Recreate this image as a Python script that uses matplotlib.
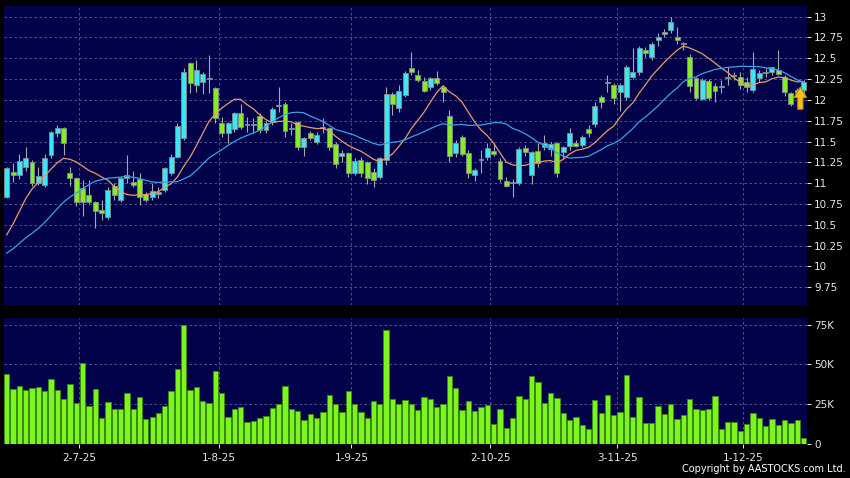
import matplotlib
matplotlib.use("Agg")
import matplotlib.pyplot as plt
import numpy as np
import pandas as pd

# closes before the visible window (only used to warm up the moving averages)
prior_close = [10.05, 10.0, 9.95, 9.9, 9.92, 9.88, 9.95, 10.0, 9.9,
               9.85, 9.8, 9.75, 9.78, 9.84, 10.3, 10.55, 10.75, 10.9, 10.95]

opens = [10.83, 11.14, 11.10, 11.19, 11.25, 11.00, 10.98, 11.34, 11.60, 11.66,
         11.12, 11.06, 10.94, 10.86, 10.77, 10.68, 10.59, 10.97, 10.80, 11.06,
         11.01, 11.05, 10.87, 10.83, 10.87, 10.92, 11.12, 11.32, 11.54, 12.44,
         12.18, 12.22, 12.25, 12.14, 11.72, 11.60, 11.65, 11.84, 11.70, 11.70,
         11.81, 11.64, 11.73, 11.93, 11.95, 11.65, 11.73, 11.43, 11.60, 11.49,
         11.66, 11.66, 11.47, 11.33, 11.36, 11.12, 11.28, 11.25, 11.14, 11.08,
         11.28, 12.07, 11.90, 12.06, 12.38, 12.30, 12.23, 12.15, 12.26, 12.15,
         11.81, 11.36, 11.55, 11.36, 11.10, 11.28, 11.31, 11.39, 11.27, 11.03,
         11.01, 11.00, 11.42, 11.10, 11.39, 11.43, 11.41, 11.48, 11.38, 11.45,
         11.48, 11.46, 11.65, 11.71, 12.03, 12.20, 12.18, 12.10, 12.04, 12.28,
         12.34, 12.60, 12.51, 12.72, 12.81, 12.84, 12.75, 12.67, 12.52, 12.26,
         12.01, 12.23, 12.17, 12.15, 12.26, 12.29, 12.27, 12.22, 12.12, 12.26,
         12.32, 12.33, 12.36, 12.27, 12.08, 12.12, 12.12]
highs = [11.20, 11.24, 11.35, 11.43, 11.28, 11.20, 11.35, 11.63, 11.70, 11.68,
         11.20, 11.08, 11.04, 11.04, 10.79, 10.80, 10.95, 11.00, 11.08, 11.34,
         11.15, 11.12, 10.90, 11.00, 10.95, 11.20, 11.35, 11.72, 12.38, 12.46,
         12.48, 12.34, 12.54, 12.16, 11.80, 11.74, 11.86, 11.95, 11.80, 11.78,
         11.84, 11.75, 11.92, 12.15, 11.97, 11.72, 11.75, 11.56, 11.63, 11.62,
         11.78, 11.68, 11.50, 11.40, 11.38, 11.30, 11.32, 11.27, 11.18, 11.32,
         12.15, 12.10, 12.18, 12.35, 12.57, 12.36, 12.28, 12.28, 12.35, 12.18,
         11.88, 11.52, 11.58, 11.40, 11.18, 11.40, 11.48, 11.48, 11.30, 11.08,
         11.05, 11.44, 11.46, 11.39, 11.48, 11.58, 11.50, 11.50, 11.45, 11.66,
         11.52, 11.58, 11.70, 11.98, 12.06, 12.30, 12.20, 12.20, 12.42, 12.62,
         12.65, 12.63, 12.70, 12.80, 12.85, 12.99, 12.88, 12.70, 12.55, 12.28,
         12.26, 12.25, 12.20, 12.24, 12.40, 12.34, 12.33, 12.28, 12.58, 12.36,
         12.38, 12.40, 12.60, 12.30, 12.10, 12.14, 12.24]
lows = [10.82, 11.01, 11.05, 11.15, 10.97, 10.98, 10.95, 11.30, 11.55, 11.34,
        10.97, 10.73, 10.60, 10.75, 10.46, 10.56, 10.57, 10.80, 10.78, 11.00,
        10.95, 10.74, 10.78, 10.80, 10.82, 10.90, 11.10, 11.30, 11.52, 12.08,
        12.10, 12.07, 12.08, 11.72, 11.55, 11.48, 11.62, 11.65, 11.62, 11.60,
        11.60, 11.60, 11.70, 11.85, 11.55, 11.58, 11.40, 11.33, 11.52, 11.47,
        11.60, 11.40, 11.18, 11.25, 11.08, 11.10, 11.08, 10.99, 10.95, 11.05,
        11.22, 11.82, 11.85, 12.03, 12.30, 12.22, 12.10, 12.12, 12.18, 11.98,
        11.26, 11.32, 11.33, 11.06, 11.03, 11.12, 11.28, 11.33, 11.02, 10.96,
        10.84, 10.98, 11.33, 10.99, 11.20, 11.40, 11.33, 11.08, 11.30, 11.40,
        11.43, 11.43, 11.56, 11.68, 11.90, 12.10, 11.95, 11.87, 12.00, 12.25,
        12.30, 12.52, 12.48, 12.65, 12.76, 12.80, 12.67, 12.60, 12.10, 12.00,
        12.00, 12.00, 11.98, 12.08, 12.18, 12.24, 12.13, 12.10, 12.10, 12.22,
        12.28, 12.30, 12.30, 12.05, 11.93, 12.05, 12.08]
closes = [11.18, 11.10, 11.27, 11.30, 11.00, 11.09, 11.30, 11.61, 11.66, 11.48,
          11.06, 10.78, 10.77, 10.77, 10.67, 10.64, 10.92, 10.86, 11.06, 11.10,
          10.98, 10.83, 10.80, 10.91, 10.89, 11.18, 11.32, 11.69, 12.33, 12.20,
          12.36, 12.31, 12.25, 11.78, 11.60, 11.72, 11.84, 11.67, 11.70, 11.70,
          11.64, 11.72, 11.89, 11.94, 11.63, 11.65, 11.43, 11.54, 11.54, 11.58,
          11.66, 11.43, 11.23, 11.36, 11.12, 11.27, 11.12, 11.06, 11.04, 11.30,
          12.07, 11.95, 12.11, 12.32, 12.34, 12.24, 12.11, 12.26, 12.20, 12.10,
          11.33, 11.48, 11.35, 11.12, 11.16, 11.29, 11.42, 11.35, 11.05, 10.97,
          11.00, 11.41, 11.37, 11.37, 11.24, 11.48, 11.47, 11.12, 11.43, 11.60,
          11.45, 11.55, 11.60, 11.93, 11.97, 12.20, 12.02, 12.18, 12.40, 12.34,
          12.62, 12.56, 12.67, 12.75, 12.79, 12.94, 12.72, 12.67, 12.17, 12.02,
          12.24, 12.02, 12.11, 12.15, 12.26, 12.29, 12.18, 12.15, 12.37, 12.32,
          12.32, 12.39, 12.31, 12.10, 11.95, 12.08, 12.22]
# volume in thousands of shares
volume_k = [44.1, 34.7, 36.4, 33.9, 35.2, 35.8, 33.1, 40.5, 33.7, 28.0,
            37.7, 25.4, 51.1, 23.5, 34.5, 15.9, 26.3, 21.8, 21.8, 32.0,
            21.8, 29.4, 15.7, 16.7, 19.3, 23.7, 33.5, 47.0, 75.2, 33.7,
            36.0, 26.9, 25.8, 46.0, 32.0, 16.9, 21.8, 22.9, 13.6, 14.0,
            16.1, 17.2, 22.5, 25.0, 36.4, 22.0, 20.6, 14.8, 18.4, 16.3,
            19.7, 30.9, 24.8, 20.1, 33.3, 24.8, 20.1, 16.1, 27.1, 25.2,
            71.8, 28.0, 25.2, 27.3, 25.0, 21.0, 29.2, 28.2, 23.3, 24.8,
            42.8, 35.0, 21.0, 27.1, 20.8, 23.3, 24.6, 12.3, 22.0, 9.5,
            16.3, 30.3, 28.4, 42.8, 39.2, 25.4, 32.0, 28.8, 19.5, 15.0,
            16.9, 11.4, 9.1, 27.3, 19.3, 30.9, 17.8, 19.9, 43.4, 16.9,
            29.7, 12.9, 13.1, 23.9, 18.9, 24.8, 15.5, 18.0, 28.2, 22.0,
            21.4, 21.6, 30.1, 9.3, 13.6, 13.3, 7.6, 12.1, 19.3, 16.1,
            10.8, 15.5, 11.9, 15.0, 12.9, 14.6, 3.2]

date_pos = [11.5, 33.5, 54.5, 76.5, 96.5, 116.5]
date_labels = ["2-7-25", "1-8-25", "1-9-25", "2-10-25", "3-11-25", "1-12-25"]
price_ticks = [9.75, 10, 10.25, 10.5, 10.75, 11, 11.25, 11.5, 11.75,
               12, 12.25, 12.5, 12.75, 13]
vol_ticks = [0, 25, 50, 75]
vol_labels = ["0", "25K", "50K", "75K"]

BG = "#02024a"
GRID = "#5c5c96"
TXT = "#e6e6e6"
UP = "#3ce6f2"
DOWN = "#86ec24"

n = len(closes)
x = np.arange(n)
all_close = pd.Series(prior_close + closes)
ma10 = all_close.rolling(10).mean().values[len(prior_close):]
ma20 = all_close.rolling(20).mean().values[len(prior_close):]

fig = plt.figure(figsize=(8.5, 4.78), dpi=100, facecolor="black")
ax = fig.add_axes([4 / 850, 173 / 478, 803 / 850, 299 / 478], facecolor=BG)
axv = fig.add_axes([4 / 850, 34.5 / 478, 803 / 850, 125.5 / 478], facecolor=BG)

o = np.array(opens)
c = np.array(closes)
cols = [UP if cc > oo else (DOWN if cc < oo else "#b0b0b0") for oo, cc in zip(o, c)]
ax.vlines(x, lows, highs, color="#a8a8a8", lw=0.8, zorder=2)
body_lo = np.minimum(o, c)
body_h = np.maximum(np.abs(c - o), 0.012)
ax.bar(x, body_h, bottom=body_lo, width=0.78, color=cols,
       edgecolor="#7f9090", linewidth=0.6, zorder=3)
ax.plot(x, ma10, color="#e99a68", lw=0.9, zorder=4)
ax.plot(x, ma20, color="#3d9fe6", lw=0.9, zorder=4)

# last price marker (yellow up arrow over the last candles)
ax_x = n - 1.5
arrow = [(ax_x - 1.0, 12.027), (ax_x, 12.155), (ax_x + 1.0, 12.027),
         (ax_x + 0.42, 12.027), (ax_x + 0.42, 11.888), (ax_x - 0.42, 11.888),
         (ax_x - 0.42, 12.027)]
ax.add_patch(plt.Polygon(arrow, closed=True, fc="#f7c31a", ec="#b88400",
                         lw=0.8, zorder=6))

ax.set_xlim(-0.43, n - 0.45)
ax.set_ylim(9.537, 13.128)
ax.set_yticks(price_ticks)
ax.set_yticklabels([("%g" % t) for t in price_ticks])
ax.set_xticks(date_pos)
ax.set_xticklabels([])

axv.bar(x, volume_k, width=0.84, color="#7cf51c", edgecolor="#3b8a10",
        linewidth=0.6, zorder=3)
axv.set_xlim(ax.get_xlim())
axv.set_ylim(0, 79.4)
axv.set_yticks(vol_ticks)
axv.set_yticklabels(vol_labels)
axv.set_xticks(date_pos)
axv.set_xticklabels(date_labels)

for a in (ax, axv):
    a.yaxis.tick_right()
    a.grid(True, color=GRID, linestyle=(0, (3, 3)), linewidth=0.6, zorder=0)
    a.set_axisbelow(True)
    for s in a.spines.values():
        s.set_visible(False)
    a.tick_params(axis="y", colors=TXT, labelsize=7.5, length=3, width=0.7, pad=2)
ax.tick_params(axis="x", length=0)
axv.tick_params(axis="x", colors=TXT, labelsize=7.5, length=3, width=0.7, pad=4,
                direction="out")

fig.text(0.995, 0.008, "Copyright by AASTOCKS.com Ltd.", ha="right", va="bottom",
         color="white", fontsize=7)

fig.savefig("out.png", dpi=100, facecolor="black")
